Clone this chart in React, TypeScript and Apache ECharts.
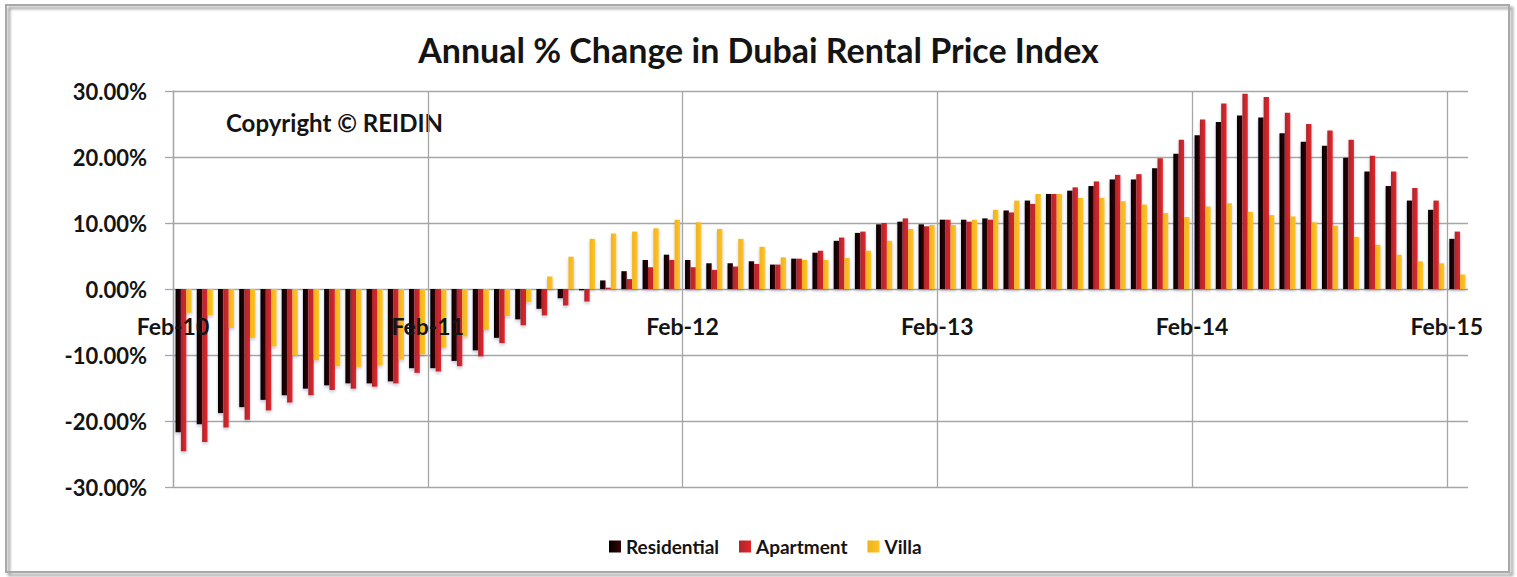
import React, { useEffect, useRef } from "react";
import * as echarts from "echarts";

const months = [
  "Feb-10", "Mar-10", "Apr-10", "May-10", "Jun-10", "Jul-10", "Aug-10", "Sep-10", "Oct-10", "Nov-10", "Dec-10", "Jan-11",
  "Feb-11", "Mar-11", "Apr-11", "May-11", "Jun-11", "Jul-11", "Aug-11", "Sep-11", "Oct-11", "Nov-11", "Dec-11", "Jan-12",
  "Feb-12", "Mar-12", "Apr-12", "May-12", "Jun-12", "Jul-12", "Aug-12", "Sep-12", "Oct-12", "Nov-12", "Dec-12", "Jan-13",
  "Feb-13", "Mar-13", "Apr-13", "May-13", "Jun-13", "Jul-13", "Aug-13", "Sep-13", "Oct-13", "Nov-13", "Dec-13", "Jan-14",
  "Feb-14", "Mar-14", "Apr-14", "May-14", "Jun-14", "Jul-14", "Aug-14", "Sep-14", "Oct-14", "Nov-14", "Dec-14", "Jan-15",
  "Feb-15",
];

const yearTickLabels = ["Feb-10", "Feb-11", "Feb-12", "Feb-13", "Feb-14", "Feb-15"];

const residential = [
  -21.7, -20.5, -18.8, -17.9, -16.8, -16.1, -15.1, -14.6, -14.3, -14.3, -14.0, -12.0,
  -12.0, -10.9, -9.3, -7.4, -4.6, -3.0, -1.4, -0.2, 1.3, 2.7, 4.4, 5.2,
  4.4, 3.9, 3.9, 4.2, 3.7, 4.6, 5.5, 7.3, 8.5, 9.8, 10.2, 9.8,
  10.5, 10.5, 10.7, 11.9, 13.4, 14.4, 14.9, 15.6, 16.6, 16.6, 18.3, 20.5,
  23.3, 25.3, 26.3, 26.0, 23.6, 22.3, 21.7, 19.9, 17.8, 15.6, 13.4, 12.0,
  7.6,
];

const apartment = [
  -24.6, -23.2, -21.0, -19.8, -18.4, -17.2, -16.1, -15.3, -15.1, -14.8, -14.3, -12.7,
  -12.5, -11.7, -10.2, -8.2, -5.5, -4.0, -2.5, -1.9, 0.2, 1.5, 3.3, 4.4,
  3.3, 2.9, 3.4, 3.8, 3.7, 4.6, 5.8, 7.8, 8.7, 10.0, 10.7, 9.5,
  10.5, 10.2, 10.5, 11.6, 12.9, 14.4, 15.4, 16.3, 17.3, 17.4, 19.8, 22.6,
  25.7, 28.1, 29.6, 29.1, 26.7, 25.0, 24.0, 22.6, 20.2, 17.8, 15.3, 13.4,
  8.7,
];

const villa = [
  -3.6, -4.0, -5.9, -7.4, -8.7, -10.1, -10.8, -11.7, -11.8, -11.6, -10.7, -9.9,
  -8.9, -7.2, -6.2, -4.1, -2.0, 1.9, 4.9, 7.6, 8.4, 8.7, 9.2, 10.5,
  10.1, 9.1, 7.6, 6.4, 4.8, 4.4, 4.4, 4.7, 5.8, 7.3, 9.1, 9.7,
  9.7, 10.5, 12.0, 13.4, 14.4, 14.4, 13.8, 13.8, 13.3, 12.8, 11.5, 10.9,
  12.5, 13.0, 11.7, 11.2, 11.0, 10.1, 9.6, 7.9, 6.7, 5.2, 4.2, 3.9,
  2.2,
];

const FONT = "Lato";

export default function App() {
  const ref = useRef<HTMLDivElement>(null);

  useEffect(() => {
    if (!ref.current) return;
    const chart = echarts.init(ref.current, null, { renderer: "svg" });
    const grad = (a: string, b: string) =>
      new echarts.graphic.LinearGradient(0, 0, 1, 0, [
        { offset: 0, color: a },
        { offset: 1, color: b },
      ]);
    const barShadow = {
      shadowColor: "rgba(40,40,90,0.25)",
      shadowBlur: 3,
      shadowOffsetY: 2,
    };

    chart.setOption({
      animation: false,
      backgroundColor: "#ffffff",
      title: {
        text: "Annual % Change in Dubai Rental Price Index",
        left: "center",
        top: 27,
        textStyle: {
          fontFamily: FONT,
          fontWeight: "bold",
          fontSize: 34,
          color: "#141414",
        },
      },
      graphic: [
        {
          type: "rect",
          silent: true,
          z: -10,
          shape: { x: 6, y: 5, width: 1503, height: 567 },
          style: {
            fill: "none",
            stroke: "#a9a9a9",
            lineWidth: 2,
            shadowBlur: 3,
            shadowOffsetX: 3,
            shadowOffsetY: 3,
            shadowColor: "rgba(0,0,0,0.45)",
          },
        },
        {
          type: "text",
          left: 226,
          top: 110,
          style: {
            text: "Copyright © REIDIN",
            font: `bold 24px ${FONT}`,
            fill: "#141414",
          },
        },
      ],
      legend: {
        data: ["Residential", "Apartment", "Villa"],
        top: 532,
        left: 604,
        icon: "rect",
        itemWidth: 12,
        itemHeight: 12,
        itemGap: 20,
        textStyle: {
          fontFamily: FONT,
          fontWeight: "bold",
          fontSize: 19,
          color: "#141414",
        },
      },
      grid: { left: 173, right: 49, top: 91, bottom: 90, containLabel: false },
      xAxis: [
        {
          type: "value",
          position: "bottom",
          offset: -198,
          z: 10,
          min: 0,
          max: 61,
          interval: 12,
          axisLine: { show: false, onZero: false },
          axisTick: { show: false },
          axisLabel: {
            formatter: (v: number) => (v % 12 === 0 ? yearTickLabels[v / 12] ?? "" : ""),
            fontFamily: FONT,
            fontWeight: "bold",
            fontSize: 23,
            color: "#141414",
            margin: 25,
            showMaxLabel: true,
          },
          splitLine: {
            show: true,
            showMaxLine: false,
            lineStyle: { color: "#a6a6a6", width: 1.3 },
          },
        },
        {
          type: "category",
          position: "top",
          data: months,
          axisLine: { show: false, onZero: false },
          axisTick: { show: false },
          axisLabel: { show: false },
          splitLine: { show: false },
        },
      ],
      yAxis: {
        type: "value",
        min: -30,
        max: 30,
        interval: 10,
        axisLine: { show: true, lineStyle: { color: "#a6a6a6", width: 1.3 } },
        axisTick: { show: true, length: 8, lineStyle: { color: "#a6a6a6", width: 1.3 } },
        axisLabel: {
          formatter: (v: number) => `${v.toFixed(2)}%`,
          fontFamily: FONT,
          fontWeight: "bold",
          fontSize: 22,
          color: "#141414",
          margin: 26,
        },
        splitLine: { show: true, lineStyle: { color: "#a6a6a6", width: 1.3 } },
      },
      series: [
        {
          name: "Residential",
          type: "bar",
          xAxisIndex: 1,
          data: residential,
          barGap: "0%",
          barCategoryGap: "24%",
          itemStyle: { color: grad("#000000", "#3a0606"), ...barShadow },
        },
        {
          name: "Apartment",
          type: "bar",
          xAxisIndex: 1,
          data: apartment,
          itemStyle: { color: grad("#a8282b", "#e8242a"), ...barShadow },
        },
        {
          name: "Villa",
          type: "bar",
          xAxisIndex: 1,
          data: villa,
          itemStyle: { color: grad("#f1b21a", "#fcc42a"), ...barShadow },
        },
      ],
    });

    return () => chart.dispose();
  }, []);

  return (
    <div
      ref={ref}
      style={{ position: "fixed", left: 0, top: 0, width: 1517, height: 577 }}
    />
  );
}
